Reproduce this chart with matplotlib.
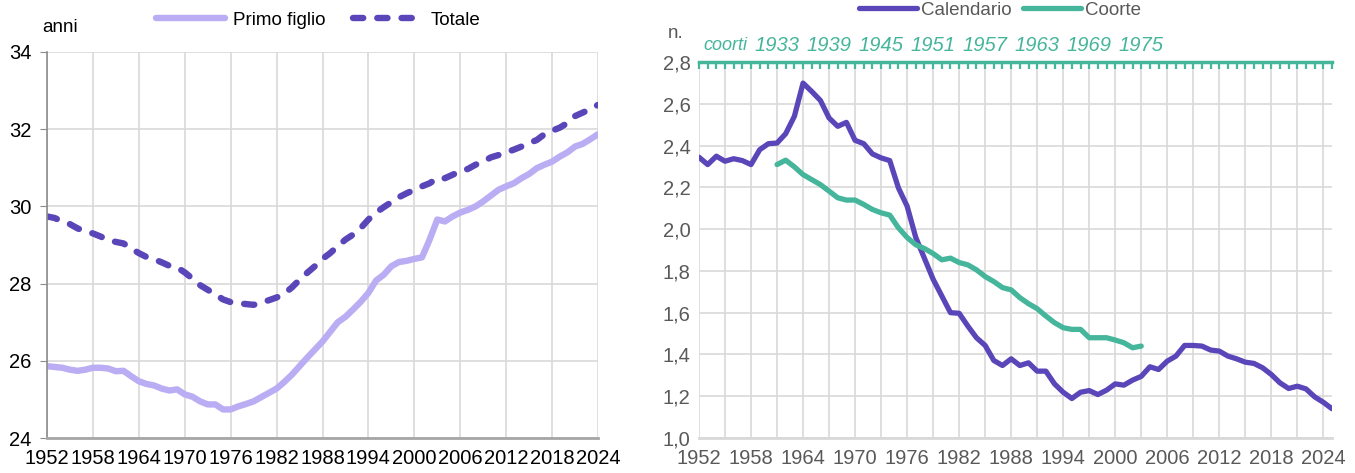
import matplotlib
matplotlib.use("Agg")
import matplotlib.pyplot as plt
from matplotlib import font_manager

names = {f.name for f in font_manager.fontManager.ttflist}
FONT = 'Liberation Sans Narrow' if 'Liberation Sans Narrow' in names else 'Liberation Sans'
plt.rcParams['font.family'] = [FONT, 'DejaVu Sans']

# ---------------- data: left panel (età media al parto) ----------------
years_left = list(range(1952, 2025))
primo_figlio = [
    25.86, 25.84, 25.82, 25.77, 25.74, 25.77, 25.82, 25.82, 25.80, 25.73,
    25.74, 25.60, 25.47, 25.40, 25.36, 25.28, 25.23, 25.26, 25.13, 25.07,
    24.95, 24.87, 24.87, 24.74, 24.74, 24.82, 24.88, 24.95, 25.06, 25.17,
    25.28, 25.45, 25.64, 25.86, 26.08, 26.29, 26.50, 26.75, 27.00, 27.14,
    27.33, 27.53, 27.76, 28.08, 28.23, 28.45, 28.56, 28.59, 28.64, 28.68,
    29.14, 29.66, 29.61, 29.74, 29.84, 29.91, 30.00, 30.13, 30.28, 30.43,
    30.52, 30.60, 30.73, 30.84, 30.99, 31.08, 31.16, 31.29, 31.40, 31.55,
    31.62, 31.74, 31.87]
totale = [
    29.74, 29.70, 29.61, 29.54, 29.43, 29.35, 29.30, 29.22, 29.13, 29.08,
    29.04, 28.91, 28.79, 28.69, 28.63, 28.55, 28.46, 28.42, 28.29, 28.13,
    27.96, 27.84, 27.72, 27.59, 27.52, 27.49, 27.47, 27.45, 27.51, 27.57,
    27.64, 27.74, 27.90, 28.10, 28.28, 28.45, 28.64, 28.79, 28.97, 29.14,
    29.27, 29.44, 29.66, 29.84, 29.98, 30.11, 30.24, 30.34, 30.43, 30.52,
    30.60, 30.73, 30.73, 30.82, 30.91, 30.97, 31.08, 31.16, 31.27, 31.33,
    31.40, 31.47, 31.55, 31.64, 31.72, 31.87, 31.96, 32.04, 32.16, 32.34,
    32.43, 32.52, 32.63]
left_xticks = list(range(1952, 2025, 6))
left_yticks = [24, 26, 28, 30, 32, 34]

# ---------------- data: right panel (numero medio di figli) ----------------
years_cal = list(range(1952, 2026))
calendario = [
    2.344, 2.309, 2.349, 2.325, 2.337, 2.328, 2.309, 2.380, 2.409, 2.412,
    2.457, 2.540, 2.699, 2.659, 2.616, 2.532, 2.492, 2.511, 2.425, 2.409,
    2.360, 2.341, 2.328, 2.197, 2.110, 1.960, 1.860, 1.760, 1.680, 1.600,
    1.597, 1.536, 1.480, 1.443, 1.371, 1.347, 1.379, 1.347, 1.360, 1.320,
    1.320, 1.259, 1.219, 1.189, 1.219, 1.227, 1.208, 1.229, 1.259, 1.253,
    1.277, 1.295, 1.341, 1.328, 1.368, 1.392, 1.443, 1.443, 1.440, 1.421,
    1.416, 1.392, 1.379, 1.363, 1.357, 1.336, 1.304, 1.264, 1.237, 1.248,
    1.235, 1.197, 1.171, 1.140]
cohorts = list(range(1933, 1976))
coorte = [
    2.309, 2.330, 2.298, 2.261, 2.237, 2.213, 2.182, 2.150, 2.139, 2.139,
    2.118, 2.094, 2.078, 2.067, 2.006, 1.960, 1.925, 1.907, 1.883, 1.853,
    1.861, 1.840, 1.829, 1.805, 1.773, 1.749, 1.720, 1.709, 1.672, 1.643,
    1.619, 1.584, 1.552, 1.528, 1.520, 1.520, 1.480, 1.480, 1.480, 1.469,
    1.456, 1.432, 1.440]
COHORT_SHIFT = 28  # cohort year plotted at calendar year = cohort + 28
right_xticks = list(range(1952, 2025, 6))
right_xgrid = list(range(1952, 2026, 3))
right_yticks = [1.0, 1.2, 1.4, 1.6, 1.8, 2.0, 2.2, 2.4, 2.6, 2.8]
cohort_labels = list(range(1933, 1976, 6))

# ---------------- style ----------------
C_DARK = '#5B46B9'
C_LIGHT = '#BAADF3'
C_TEAL = '#45B59B'
C_GRID = '#D9D9D9'
FS = 14.5

fig = plt.figure(figsize=(13.55, 4.73), dpi=100)

# ---------- left ----------
ax1 = fig.add_axes([47/1355, 35/473, 551/1355, 386/473])
l1, = ax1.plot(years_left, primo_figlio, color=C_LIGHT, lw=4.6,
               solid_capstyle='round', solid_joinstyle='round', label='Primo figlio')
l2, = ax1.plot(years_left, totale, color=C_DARK, lw=4.6, dashes=(1.6, 2.2),
               dash_capstyle='round', label='Totale')
ax1.set_xlim(1952, 2024)
ax1.set_ylim(24, 34)
ax1.set_xticks(left_xticks)
ax1.set_yticks(left_yticks)
ax1.grid(True, color=C_GRID, lw=1.2)
ax1.set_axisbelow(True)
for s in ['top', 'right']:
    ax1.spines[s].set_visible(False)
ax1.spines['left'].set_color('#8C8C8C')
ax1.spines['bottom'].set_color('#A6A6A6')
ax1.spines['bottom'].set_linewidth(2)
ax1.spines['left'].set_linewidth(1.2)
ax1.tick_params(axis='y', length=5, color='#8C8C8C', labelsize=FS, pad=6, labelcolor='black')
ax1.tick_params(axis='x', length=0, labelsize=FS, pad=8, labelcolor='black')
fig.text(42/1355, 1 - 28/473, 'anni', fontsize=13.5, va='center', ha='left')
fig.legend(handles=[l1, l2], loc='center', bbox_to_anchor=(318/1355, 1 - 20/473),
           ncol=2, frameon=False, fontsize=13.5, handlelength=3.7, columnspacing=1.5,
           handletextpad=0.4)

# ---------- right ----------
ax2 = fig.add_axes([699/1355, 35/473, 633/1355, 376/473])
r1, = ax2.plot(years_cal, calendario, color=C_DARK, lw=3.8,
               solid_capstyle='round', solid_joinstyle='round', label='Calendario')
r2, = ax2.plot([c + COHORT_SHIFT for c in cohorts], coorte, color=C_TEAL, lw=3.8,
               solid_capstyle='round', solid_joinstyle='round', label='Coorte')
ax2.set_xlim(1952, 2025)
ax2.set_ylim(1.0, 2.8)
ax2.set_xticks(right_xticks)
ax2.set_xticks(right_xgrid, minor=True)
ax2.set_yticks(right_yticks)
ax2.set_yticklabels([f'{v:.1f}'.replace('.', ',') for v in right_yticks])
ax2.grid(True, which='both', axis='x', color=C_GRID, lw=1.2)
ax2.grid(True, which='major', axis='y', color=C_GRID, lw=1.2)
ax2.set_axisbelow(True)
for s in ['left', 'right', 'top']:
    ax2.spines[s].set_visible(False)
ax2.spines['bottom'].set_color(C_GRID)
ax2.spines['bottom'].set_linewidth(2)
ax2.tick_params(axis='both', which='both', length=0, labelsize=FS, labelcolor='#595959')
ax2.tick_params(axis='x', pad=8)
ax2.tick_params(axis='y', pad=6)

# top cohort axis
top = ax2.twiny()
top.set_xlim(ax2.get_xlim())
top.set_xticks([c + COHORT_SHIFT for c in cohort_labels])
top.set_xticklabels([str(c) for c in cohort_labels], fontstyle='italic')
top.set_xticks(years_cal, minor=True)
top.tick_params(axis='x', which='both', direction='in', length=5, width=1.6,
                color=C_TEAL, labelcolor=C_TEAL, labelsize=FS, pad=5)
for s in ['left', 'right', 'bottom']:
    top.spines[s].set_visible(False)
top.spines['top'].set_color(C_TEAL)
top.spines['top'].set_linewidth(2.5)
fig.text((699 + 3 * 8.67) / 1355, 1 - 45/473, 'coorti', color=C_TEAL, fontstyle='italic',
         fontsize=13, ha='center', va='center')
fig.text(668/1355, 1 - 33/473, 'n.', fontsize=13.5, color='#595959', va='center', ha='left')
fig.legend(handles=[r1, r2], loc='center', bbox_to_anchor=(1000/1355, 1 - 10/473),
           ncol=2, frameon=False, fontsize=13.5, handlelength=3.1, columnspacing=0.6,
           handletextpad=0.2, labelcolor='#595959')

fig.savefig('out.png', dpi=100)
